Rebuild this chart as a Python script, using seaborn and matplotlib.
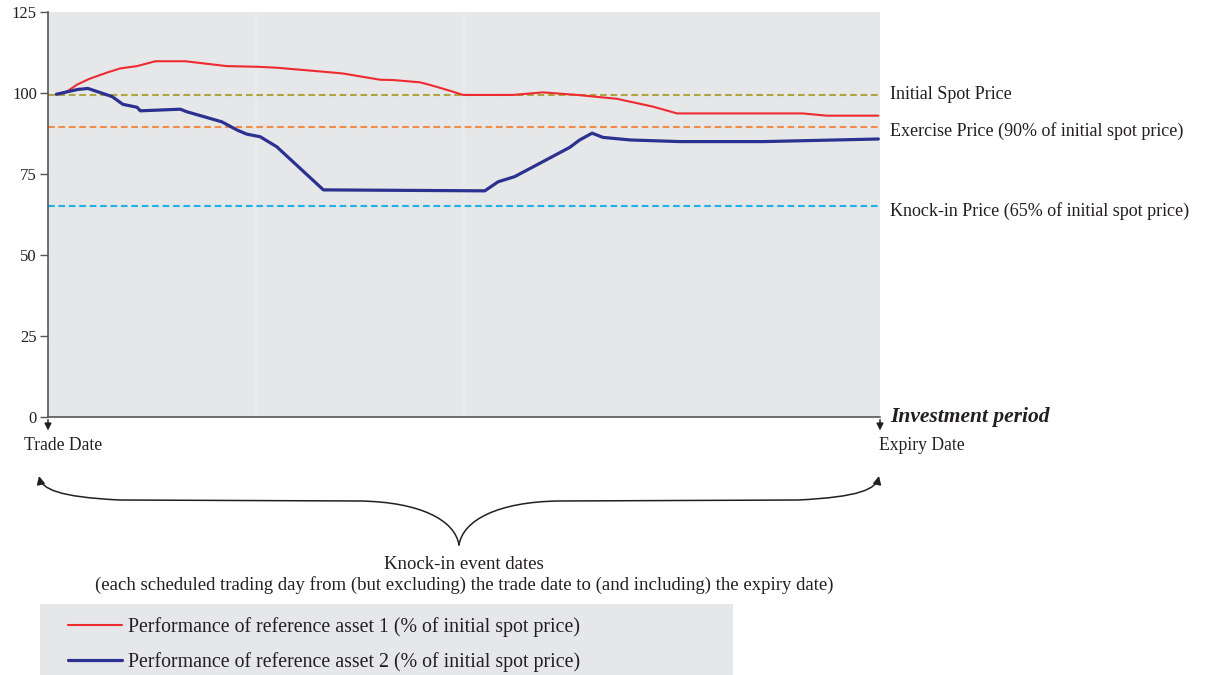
import numpy as np
import pandas as pd
import matplotlib
matplotlib.use('Agg')
import matplotlib.pyplot as plt
from matplotlib.path import Path
from matplotlib.patches import FancyArrowPatch, Rectangle
import seaborn as sns

# данные (ось x - доля инвестиционного периода, %)
days_1 = [1.0, 2.3, 3.5, 5.0, 7.2, 8.7, 10.7, 12.9, 16.5, 21.5, 25.1, 27.5, 34.3, 35.5,
          39.9, 41.5, 44.7, 45.9, 48.3, 49.9, 55.9, 59.5, 63.6, 68.4, 72.7, 75.6, 90.7, 93.6, 99.8]
asset_1 = [99.6, 100.5, 102.6, 104.4, 106.4, 107.6, 108.3, 109.8, 109.8, 108.3, 108.1, 107.8,
           106.3, 106.0, 104.1, 104.0, 103.3, 102.5, 100.7, 99.4, 99.4, 100.2, 99.4, 98.2,
           95.8, 93.7, 93.7, 93.0, 93.0]
days_2 = [1.0, 3.6, 4.8, 7.7, 9.0, 10.7, 11.1, 15.9, 16.7, 20.9, 22.7, 23.9, 25.5, 27.5,
          33.1, 52.5, 54.1, 56.1, 62.7, 63.9, 65.4, 66.7, 70.0, 76.0, 86.0, 99.8]
asset_2 = [99.6, 101.1, 101.4, 98.9, 96.5, 95.6, 94.5, 95.0, 94.2, 91.1, 88.6, 87.3, 86.5,
           83.4, 70.1, 69.8, 72.6, 74.2, 83.2, 85.5, 87.6, 86.3, 85.5, 85.0, 85.0, 85.8]

lvl_names = ['Initial Spot Price', 'Exercise Price (90% of initial spot price)',
             'Knock-in Price (65% of initial spot price)']
lvl_values = [99.4, 89.5, 65.0]
lvl_colors = ['#aea53c', '#f28c46', '#1ab4ea']

lbl_1 = 'Performance of reference asset 1 (% of initial spot price)'
lbl_2 = 'Performance of reference asset 2 (% of initial spot price)'
y_ticks = [0, 25, 50, 75, 100, 125]

sns.set_style('white')
plt.rcParams['font.family'] = ['Liberation Serif', 'DejaVu Serif']
txt_col = '#231f20'
bg = '#e6e7e9'

W, H = 1210, 675
fig = plt.figure(figsize=(W / 100, H / 100), dpi=100)


def fp(x, y):  # пиксели -> доли фигуры
    return x / W, 1 - y / H


ax = fig.add_axes([48 / W, 1 - 417 / H, (880 - 48) / W, (417 - 12) / H])
ax.set_facecolor(bg)
for xv in [25, 50]:
    ax.axvline(xv, color='#eceded', lw=1.2, zorder=0)

for v, c in zip(lvl_values, lvl_colors):
    ax.axhline(v, color=c, lw=1.5, dashes=(3.2, 1.8), zorder=1)

sns.lineplot(x=days_1, y=asset_1, color='#ee2b30', lw=1.5, sort=False, estimator=None,
             label=lbl_1, ax=ax, zorder=3)
sns.lineplot(x=days_2, y=asset_2, color='#2b3190', lw=2.3, sort=False, estimator=None,
             label=lbl_2, ax=ax, zorder=3)

ax.set_xlim(0, 100)
ax.set_ylim(0, 125)
ax.set_yticks(y_ticks)
ax.set_xticks([])
ax.set_xlabel('')
ax.set_ylabel('')
ax.tick_params(axis='y', direction='out', length=6, width=1, color='#555555',
               labelsize=12, labelcolor=txt_col, pad=2, left=True)
for s in ['top', 'right']:
    ax.spines[s].set_visible(False)
for s in ['left', 'bottom']:
    ax.spines[s].set_color('#555555')
    ax.spines[s].set_linewidth(1.2)

# подписи уровней справа
for name, v, dy in zip(lvl_names, lvl_values, [0.0, -1.2, -1.4]):
    ax.text(1.012, v + dy, name, transform=ax.get_yaxis_transform(), va='center',
            ha='left', fontsize=13.0, color=txt_col)

ax.text(1.012, 0, 'Investment period', transform=ax.get_yaxis_transform(), va='center',
        ha='left', fontsize=15.5, fontweight='bold', fontstyle='italic', color=txt_col)

# стрелки вниз у начала и конца периода
xt = ax.get_xaxis_transform()
for xv in [0, 100]:
    ax.annotate('', xy=(xv, -0.04), xytext=(xv, 0), xycoords=xt, textcoords=xt,
                arrowprops=dict(arrowstyle='-|>', color='#231f20', lw=1.1, mutation_scale=10))

fig.text(*fp(63, 445), 'Trade Date', ha='center', va='center', fontsize=12.7, color=txt_col)
fig.text(*fp(922, 445), 'Expiry Date', ha='center', va='center', fontsize=12.7, color=txt_col)


# фигурная скобка
def brace(side):
    s = -1 if side == 'left' else 1
    cx = 459
    pts = [(cx, 545), (cx + s * 4, 520), (cx + s * 39, 502), (cx + s * 99, 501),
           (cx + s * 339, 500),
           (cx + s * 401, 497), (cx + s * 417, 489), (cx + s * 420, 476)]
    codes = [Path.MOVETO, Path.CURVE4, Path.CURVE4, Path.CURVE4, Path.LINETO,
             Path.CURVE4, Path.CURVE4, Path.CURVE4]
    p = Path([fp(x, y) for x, y in pts], codes)
    fig.patches.append(FancyArrowPatch(path=p, transform=fig.transFigure, arrowstyle='-|>',
                                       mutation_scale=12, color='#231f20', lw=1.1))


brace('left')
brace('right')

fig.text(*fp(464, 575), 'Knock-in event dates\n(each scheduled trading day from (but excluding) '
         'the trade date to (and including) the expiry date)', ha='center', va='center',
         fontsize=13.5, color=txt_col, linespacing=1.15)

# легенда в сером прямоугольнике
fig.patches.append(Rectangle(fp(40, 675), (733 - 40) / W, (675 - 604) / H,
                             transform=fig.transFigure, facecolor=bg, edgecolor='none', zorder=-1))
leg = ax.legend(loc='upper left', bbox_to_anchor=fp(68, 617), bbox_transform=fig.transFigure,
                frameon=False, fontsize=14.3, handlelength=2.7, handletextpad=0.3,
                labelspacing=0.76, borderaxespad=0, borderpad=0)
for t in leg.get_texts():
    t.set_color(txt_col)

fig.savefig('out.png', dpi=100)
